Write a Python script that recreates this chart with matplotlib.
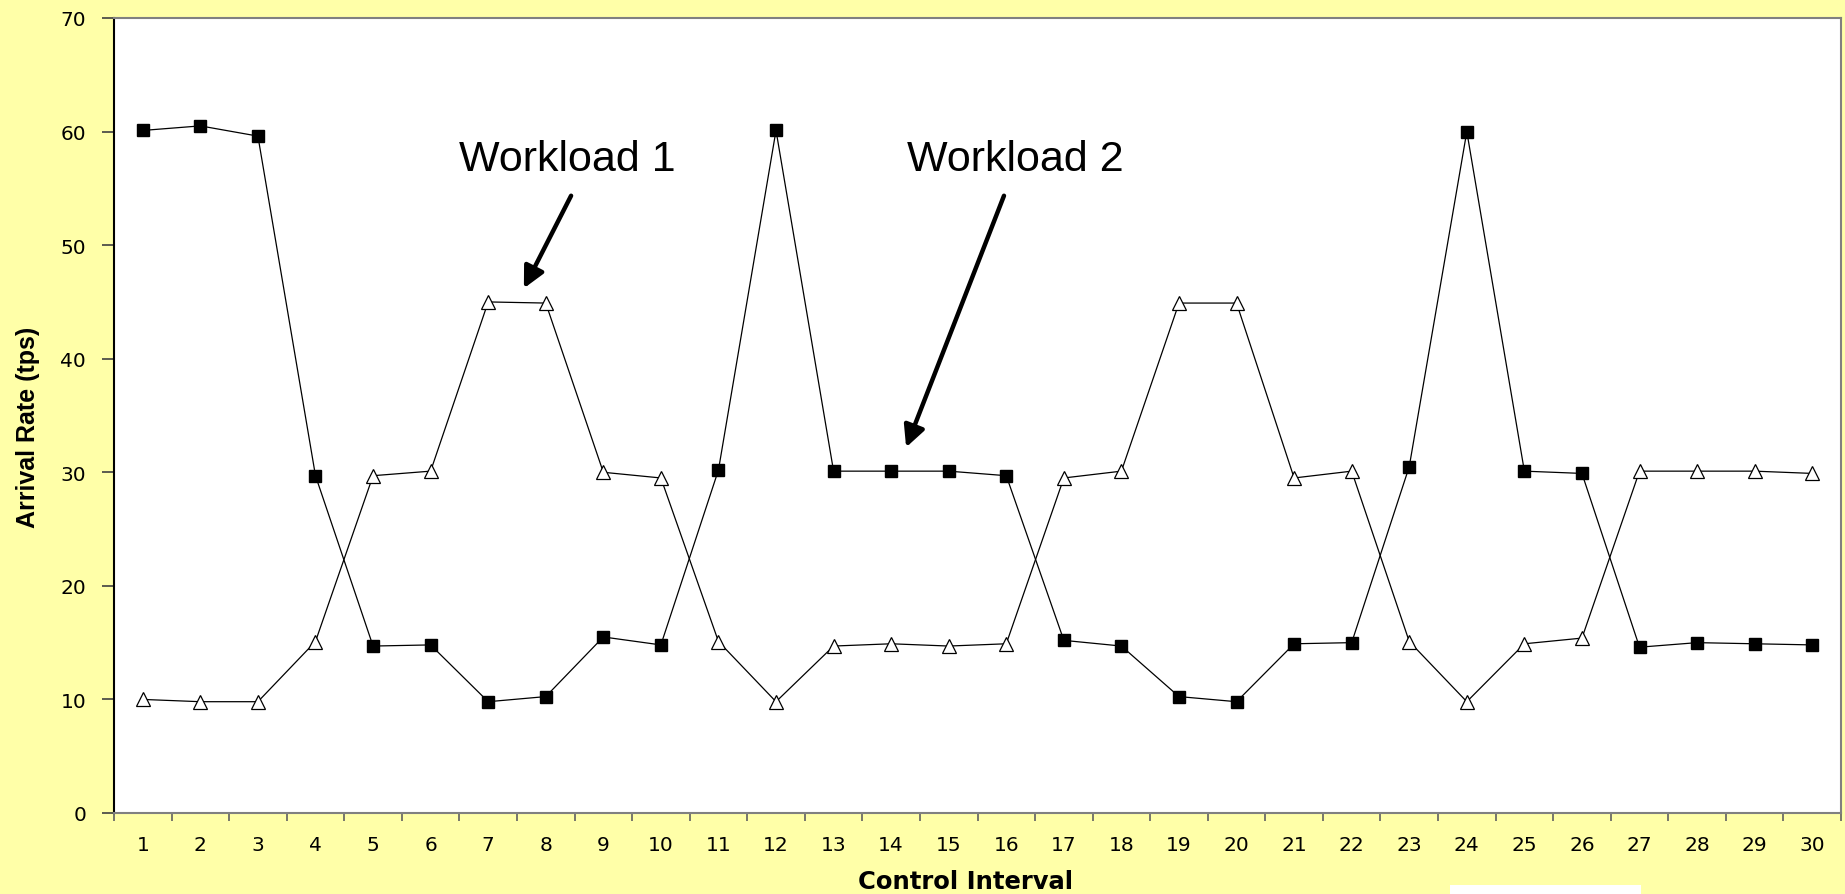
import matplotlib
matplotlib.use("Agg")
import matplotlib.pyplot as plt
from matplotlib.patches import Rectangle

# Arrival rate per control interval for the two workloads
intervals = list(range(1, 31))
workload1 = [10.0, 9.8, 9.8, 15.1, 29.7, 30.1, 45.0, 44.9, 30.0, 29.5,
             15.1, 9.8, 14.7, 14.9, 14.7, 14.9, 29.5, 30.1, 44.9, 44.9,
             29.5, 30.1, 15.1, 9.8, 14.9, 15.4, 30.1, 30.1, 30.1, 29.9]
workload2 = [60.1, 60.5, 59.6, 29.7, 14.7, 14.8, 9.8, 10.25, 15.5, 14.8,
             30.2, 60.1, 30.1, 30.1, 30.1, 29.7, 15.2, 14.7, 10.25, 9.8,
             14.9, 15.0, 30.5, 60.0, 30.1, 29.9, 14.6, 15.0, 14.9, 14.8]
y_ticks = [0, 10, 20, 30, 40, 50, 60, 70]

BG = "#FFFFA8"
W, H = 1845, 895
SANS = ["Liberation Sans", "DejaVu Sans"]
WIDE = ["DejaVu Sans"]

fig = plt.figure(figsize=(W / 100, H / 100), dpi=100, facecolor=BG)
ax = fig.add_axes([114 / W, (H - 814) / H, (1841 - 114) / W, (814 - 19) / H])
ax.set_facecolor("white")

ax.plot(intervals, workload1, color="black", lw=0.9, marker="^",
        markersize=10, markerfacecolor="white", markeredgecolor="black",
        markeredgewidth=0.9, zorder=3)
ax.plot(intervals, workload2, color="black", lw=0.9, marker="s",
        markersize=9, markerfacecolor="black", markeredgecolor="black",
        zorder=4)

ax.set_xlim(0.5, 30.5)
ax.set_ylim(0, 70)

# category axis: labels centred, tick marks on category boundaries
ax.set_xticks(intervals)
ax.set_xticklabels([str(i) for i in intervals], fontsize=14.5, family=WIDE)
ax.set_xticks([i + 0.5 for i in range(0, 31)], minor=True)
ax.tick_params(axis="x", which="major", length=0, pad=15.5)
ax.tick_params(axis="x", which="minor", length=6, width=1.2, color="#606060",
               direction="out")
ax.set_yticks(y_ticks)
ax.set_yticklabels([str(v) for v in y_ticks], fontsize=14.5, family=WIDE)
ax.tick_params(axis="y", which="major", length=9, width=1.2, color="#404040",
               direction="out", pad=11)

ax.spines["left"].set_color("black")
ax.spines["left"].set_linewidth(1.5)
for side in ("bottom", "top", "right"):
    ax.spines[side].set_color("#808080")
    ax.spines[side].set_linewidth(1.5)

fig.text(966 / W, 1 - 882 / H, "Control Interval", ha="center", va="center",
         fontsize=17.5, fontweight="bold", family=WIDE)
fig.text(28 / W, 1 - 427 / H, "Arrival Rate (tps)", ha="center", va="center",
         rotation=90, fontsize=18, fontweight="bold", family=SANS)

# callouts
ax.text(8.37, 56.6, "Workload 1", ha="center", va="baseline", fontsize=31,
        family=SANS)
ax.text(16.15, 56.6, "Workload 2", ha="center", va="baseline", fontsize=31,
        family=SANS)
arrow = dict(arrowstyle="-|>", lw=3.2, color="black", mutation_scale=32,
             shrinkA=0, shrinkB=0)
ax.annotate("", xy=(7.62, 46.2), xytext=(8.44, 54.35), arrowprops=arrow)
ax.annotate("", xy=(14.26, 32.2), xytext=(15.96, 54.35), arrowprops=arrow)

fig.patches.append(Rectangle((1450 / W, 0), (1641 - 1450) / W, 9 / H,
                             transform=fig.transFigure, facecolor="white",
                             edgecolor="none"))

fig.savefig("out.png", dpi=100, facecolor=BG)
